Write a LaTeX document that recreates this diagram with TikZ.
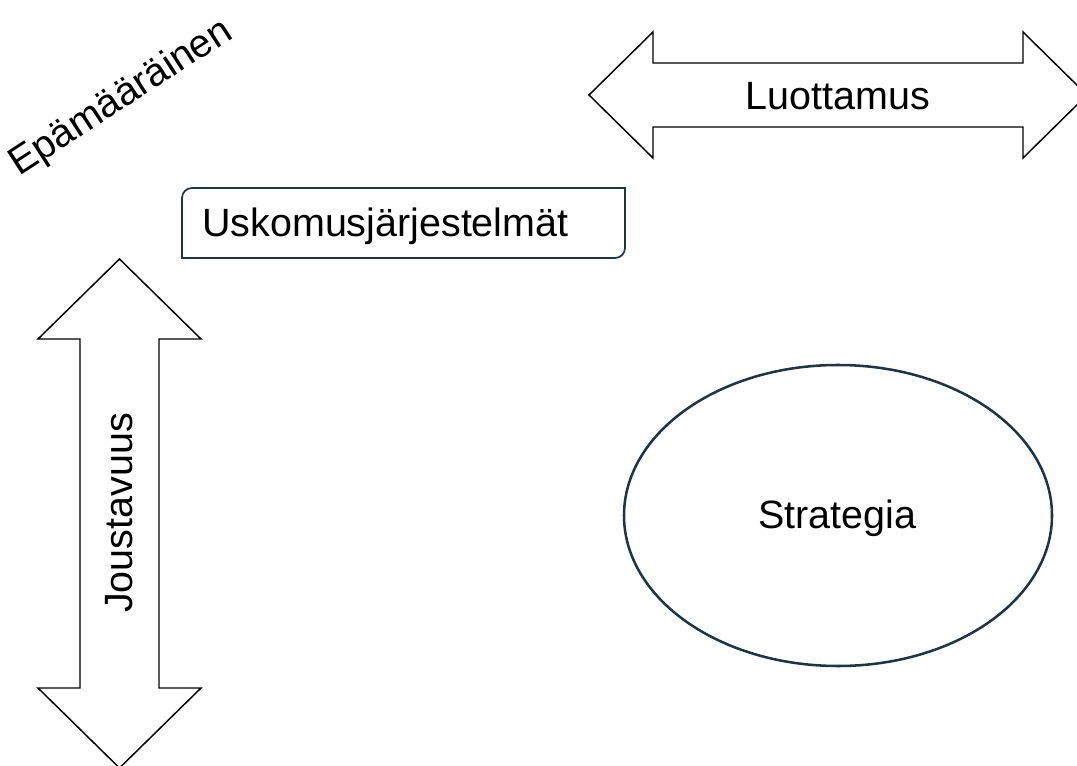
\documentclass[tikz,border=0pt]{standalone}
\usepackage{fontspec}
\setmainfont{Liberation Sans}
\usetikzlibrary{shapes.geometric}
\definecolor{slate}{HTML}{1D3547}
\begin{document}
\begin{tikzpicture}[x=0.75pt,y=0.75pt,
  label text/.style={font=\fontsize{29.6}{35}\selectfont, text=black, inner sep=0pt},
  arrow outline/.style={draw=black, line width=1.1pt, fill=white, line join=miter},
]
\useasboundingbox (0,0) rectangle (1077,765);
\clip (0,0) rectangle (1077,765);

% horizontal double arrow
\draw[arrow outline] (589,670) -- (653,733) -- (653,702) -- (1023,702) -- (1023,733)
  -- (1087,670) -- (1023,607) -- (1023,638) -- (653,638) -- (653,607) -- cycle;
\node[label text, anchor=base] (luottamus) at (838,655) {Luottamus};

% vertical double arrow
\draw[arrow outline] (119.5,506) -- (201,426) -- (159,426) -- (159,77) -- (201,77)
  -- (119.5,-3) -- (38,77) -- (80,77) -- (80,426) -- (38,426) -- cycle;
\node[label text, anchor=base, rotate=90] (joustavuus) at (132,252) {Joustavuus};

% rotated heading
\node[label text, anchor=base, rotate=33] (epamaarainen) at (127,658) {Epämääräinen};

% box with two rounded corners
\draw[slate, line width=1.3pt] (182,507) -- (182,567) arc[start angle=180, end angle=90, radius=10]
  -- (625,577) -- (625,517) arc[start angle=0, end angle=-90, radius=10] -- cycle;
\node[label text, anchor=base west] (usko) at (202,528) {Uskomusjärjestelmät};

% ellipse (sizes in pt: 428 x 301 px)
\node[draw=slate, line width=1.9pt, ellipse, minimum width=321pt, minimum height=225.75pt, inner sep=0pt]
  (strategia) at (838,249.5) {};
\node[label text, anchor=base] (strategiatext) at (837,237) {Strategia};
\end{tikzpicture}
\end{document}
